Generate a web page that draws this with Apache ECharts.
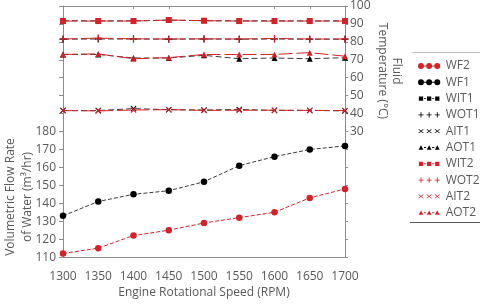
<!DOCTYPE html>
<html><head><meta charset="utf-8">
<script src="https://cdn.jsdelivr.net/npm/echarts@6/dist/echarts.min.js"></script>
<style>html,body{margin:0;padding:0;background:#fff}#c{width:480px;height:304px}</style>
</head><body><div id="c"></div>
<script>
const rpm = [1300,1350,1400,1450,1500,1550,1600,1650,1700];
const leftTicks = [110,120,130,140,150,160,170,180];
const rightTicks = [30,40,50,60,70,80,90,100];
const WF2 = [112,115,122,125,129,132,135,143,148];
const WF1 = [133,141,145,147,152,161,166,170,172];
const WIT1 = [91.8,91.7,91.7,92.1,91.8,91.7,91.7,91.7,91.7];
const WOT1 = [81.5,81.6,81.6,81.5,81.6,81.5,81.6,81.5,81.5];
const AIT1 = [41.7,41.7,42.8,42.2,42.0,42.3,41.8,41.8,41.5];
const AOT1 = [73.0,73.0,71.0,71.0,72.5,70.6,71.0,70.6,71.2];
const WIT2 = [91.6,91.6,91.6,92.2,91.8,91.6,91.6,91.6,91.6];
const WOT2 = [81.6,82.1,81.7,81.6,81.7,81.6,81.9,81.6,81.6];
const AIT2 = [41.7,41.5,42.0,42.2,41.8,41.9,41.9,41.8,41.7];
const AOT2 = [73.0,73.3,70.6,71.2,73.0,72.9,73.0,74.0,72.0];

const RED = '#d0232a', BLK = '#000000';
const TXT = '#595959', AX = '#8c8c8c';
const plusPath = 'path://M2.5,0H3.5V2.5H6V3.5H3.5V6H2.5V3.5H0V2.5H2.5Z';
const crossPath = 'path://M0.7,0L3,2.3L5.3,0L6,0.7L3.7,3L6,5.3L5.3,6L3,3.7L0.7,6L0,5.3L2.3,3L0,0.7Z';

function pairs(v){ return rpm.map((x,i)=>[x,v[i]]); }
function three(fn, line){
  let p = '';
  [3.5,13,22.5].forEach(cx=>{ p += fn(cx); });
  if(line){ p += 'M7,3H9.5V4H7Z M16.5,3H19V4H16.5Z'; }
  return 'path://' + p + 'M0,0M26,7';
}
const icCircle = three(cx=>`M${cx-3.5},3.5A3.5,3.5 0 1,0 ${cx+3.5},3.5A3.5,3.5 0 1,0 ${cx-3.5},3.5Z`, true);
const icSquare = three(cx=>`M${cx-2.5},1H${cx+2.5}V6H${cx-2.5}Z`, true);
const icPlus = three(cx=>`M${cx-0.5},0.5H${cx+0.5}V3H${cx+3}V4H${cx+0.5}V6.5H${cx-0.5}V4H${cx-3}V3H${cx-0.5}Z`, false);
const icCross = three(cx=>`M${cx-2.5},1L${cx},3L${cx+2.5},1L${cx+3},1.6L${cx+0.6},3.5L${cx+3},5.4L${cx+2.5},6L${cx},4L${cx-2.5},6L${cx-3},5.4L${cx-0.6},3.5L${cx-3},1.6Z`, false);
const icTri = three(cx=>`M${cx-2.8},6L${cx},1L${cx+2.8},6Z`, true);

function S(name, data, color, yIdx, symbol, size, dash, z){
  return {name, type:'line', data:pairs(data), yAxisIndex:yIdx, symbol, symbolSize:size,
    lineStyle:{color:color==BLK?'#3a3a3a':color, width:1, type:dash}, itemStyle:{color, borderWidth:0},
    showSymbol:true, z, animation:false};
}
const series = [
  S('WF2', WF2, RED, 0, 'circle', 6.5, [4,2], 3),
  S('WF1', WF1, BLK, 0, 'circle', 6.5, [4,2], 3),
  S('WIT1', WIT1, BLK, 1, 'rect', 5, [6,3], 2),
  S('WOT1', WOT1, BLK, 1, plusPath, 7, [6,3], 2),
  S('AIT1', AIT1, BLK, 1, crossPath, 6, [6,3], 2),
  S('AOT1', AOT1, BLK, 1, 'triangle', 6, [6,3], 2),
  S('WIT2', WIT2, RED, 1, 'rect', 6, [14,4], 3),
  S('WOT2', WOT2, RED, 1, plusPath, 7, [14,4], 3),
  S('AIT2', AIT2, RED, 1, crossPath, 6, [14,4], 3),
  S('AOT2', AOT2, RED, 1, 'triangle', 6, [14,4], 3)
];
const icons = [icCircle, icCircle, icSquare, icPlus, icCross, icTri, icSquare, icPlus, icCross, icTri];

const chart = echarts.init(document.getElementById('c'), null, {renderer:'canvas'});
const FONT = 'Open Sans';
chart.setOption({
  animation:false,
  grid:{left:63, right:135, top:6, bottom:41},
  legend:{
    orient:'vertical', left:413, top:54, itemWidth:25, itemHeight:6, itemGap:2.3,
    data: series.map((s,i)=>({name:s.name, icon:icons[i]})),
    textStyle:{color:TXT, fontSize:12, fontFamily:FONT, lineHeight:14, padding:[0,0,0,-1]},
    itemStyle:{borderWidth:0}, selectedMode:false
  },
  xAxis:[{
    type:'value', min:1300, max:1700, interval:50, position:'bottom',
    axisLine:{onZero:false, lineStyle:{color:AX}}, axisTick:{show:false}, splitLine:{show:false},
    axisLabel:{color:TXT, fontSize:12, fontFamily:FONT, margin:13, formatter:(v)=>String(v)},
    name:'Engine Rotational Speed (RPM)', nameLocation:'middle', nameGap:27,
    nameTextStyle:{color:TXT, fontSize:12, fontFamily:FONT}
  },{
    type:'category', position:'top', boundaryGap:false, data:rpm.map(String),
    axisLine:{onZero:false, lineStyle:{color:AX}}, axisLabel:{show:false},
    axisTick:{inside:true, length:3, lineStyle:{color:AX}, interval:(i)=>[2,3,6,7].includes(i)},
    splitLine:{show:false}
  }],
  yAxis:[{
    type:'value', min:110, max:250, interval:10, position:'left',
    axisLine:{show:true, onZero:false, lineStyle:{color:AX}}, axisTick:{show:true, length:4, lineStyle:{color:AX}},
    splitLine:{show:false},
    axisLabel:{color:TXT, fontSize:12, fontFamily:FONT, margin:7,
      formatter:(v)=> leftTicks.includes(v) ? String(v) : ''}
  },{
    type:'value', min:-40, max:100, interval:10, position:'right',
    axisLine:{show:true, onZero:false, lineStyle:{color:AX}}, axisTick:{show:true, length:3, lineStyle:{color:AX}},
    splitLine:{show:false},
    axisLabel:{color:TXT, fontSize:12, fontFamily:FONT, margin:5,
      formatter:(v)=> rightTicks.includes(v) ? String(v) : ''}
  }],
  graphic:[
    {type:'text', x:19, y:197, rotation:Math.PI/2, style:{text:'Volumetric Flow Rate\nof Water (m³/hr)', fill:TXT, font:'12px "Open Sans"', align:'center', verticalAlign:'middle', lineHeight:17}},
    {type:'text', x:389, y:71, rotation:-Math.PI/2, style:{text:'Fluid\nTemperature (°C)', fill:TXT, font:'12px "Open Sans"', align:'center', verticalAlign:'middle', lineHeight:14}},
    {type:'line', shape:{x1:412, y1:52.5, x2:480, y2:52.5}, style:{stroke:'#bfbfbf', lineWidth:1}},
    {type:'line', shape:{x1:410, y1:222.5, x2:480, y2:222.5}, style:{stroke:'#595959', lineWidth:1}}
  ],
  series
});
</script></body></html>
